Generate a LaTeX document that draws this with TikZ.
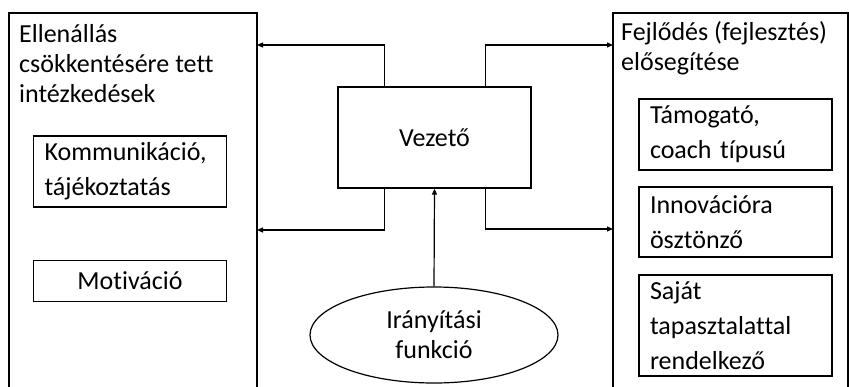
\documentclass[tikz,border=0pt]{standalone}
\usepackage{fontspec}
\setmainfont{Carlito}[Ligatures=NoCommon]
\usetikzlibrary{arrows.meta, positioning, shapes.geometric}

\begin{document}
\begin{tikzpicture}[
  x=1pt, y=-1pt,
  frame/.style={rectangle, draw=black, line width=1.2pt, inner sep=0pt},
  itembox/.style={
    rectangle, draw=black, line width=1.2pt,
    text width=171pt, align=left, inner xsep=11pt,
    font=\fontsize{26}{35}\selectfont
  },
  title/.style={align=left, inner sep=0pt, anchor=base west, font=\fontsize{26}{30}\selectfont},
  arrow/.style={-{Triangle[length=6pt,width=5pt]}, line width=1.2pt}
]
\useasboundingbox (0,0) rectangle (849,386);
\clip (0,0) rectangle (849,386);

% Outer frames
\node[frame, minimum width=248pt, minimum height=390pt] (resist) at (133,208) {};
\node[frame, minimum width=235pt, minimum height=390pt] (growth) at (730.5,208) {};

% anchored at the baseline of the last line
\node[title] (resisttitle) at (19,102) {Ellenállás\\csökkentésére tett\\intézkedések};
\node[title] (growthtitle) at (621,70) {Fejlődés (fejlesztés)\\elősegítése};

% Centre
\node[frame, minimum width=193pt, minimum height=101pt, font=\fontsize{26}{30}\selectfont] (leader) at (434.5,137.5) {Vezető};
\node[ellipse, draw=black, line width=1.2pt, inner sep=0pt,
      minimum width=248pt, minimum height=96pt, align=center,
      font=\fontsize{26}{30}\selectfont] (control) at (434,335) {Irányítási\\funkció};

% Inner boxes
\node[itembox, minimum height=71pt] (comm) at (130,171.5) {Kommunikáció,\\tájékoztatás};
\node[itembox, minimum height=41pt, align=center] (motiv) at (130,281) {Motiváció};

\node[itembox, minimum height=71pt] (support) at (735.5,134.5) {Támogató,\\coach típusú};
\node[itembox, minimum height=70pt] (innov) at (735.5,222) {Innovációra\\ösztönző};
\node[itembox, minimum height=101pt] (own) at (735.5,325.5) {Saját\\tapasztalattal\\rendelkező};

% Arrows
\coordinate (upleft) at (257,45);
\coordinate (upright) at (613,45);
\coordinate (lowleft) at (257,230);
\coordinate (lowright) at (613,229);

\draw[arrow] ([xshift=47pt]leader.north west) |- (upleft);
\draw[arrow] ([xshift=-46pt]leader.north east) |- (upright);
\draw[arrow] ([xshift=47pt]leader.south west) |- (lowleft);
\draw[arrow] ([xshift=-46pt]leader.south east) |- (lowright);
\draw[arrow] (control.north) -- (leader.south);

\end{tikzpicture}
\end{document}
